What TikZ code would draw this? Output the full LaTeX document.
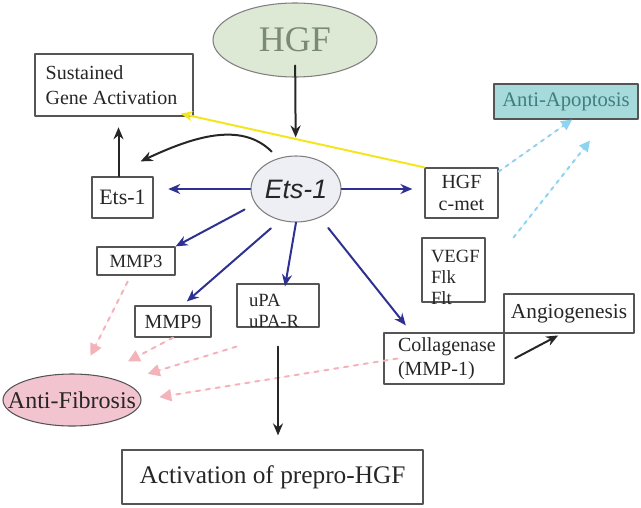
\documentclass[tikz,border=0pt]{standalone}
\usepackage{fontspec}
\setmainfont{Liberation Serif}
\newfontfamily\etsfont{Liberation Sans}
\usetikzlibrary{shapes.geometric,arrows.meta}
\definecolor{boxgray}{HTML}{555555}
\definecolor{hgffill}{HTML}{DDE9D5}
\definecolor{hgftext}{HTML}{7A8A74}
\definecolor{etsfill}{HTML}{EDEFF4}
\definecolor{etsblue}{HTML}{2E3192}
\definecolor{apopfill}{HTML}{A6DADB}
\definecolor{apoptext}{HTML}{3F7E80}
\definecolor{fibfill}{HTML}{F2C4D0}
\definecolor{hlyellow}{HTML}{F3E620}
\definecolor{dotblue}{HTML}{8ED3EF}
\definecolor{dashpink}{HTML}{F4B2BA}
\begin{document}
\begin{tikzpicture}[x=0.75pt,y=-0.75pt,line join=round,line cap=round,
	box/.style={draw=boxgray,line width=0.9pt,inner sep=0pt,text=black!85},
	oval/.style={ellipse,draw=gray,line width=0.8pt,inner sep=0pt},
	blackarr/.style={-{Stealth[length=9pt,width=7.5pt]},draw=black!85,line width=1.5pt},
	bluearr/.style={-{Stealth[length=9pt,width=7.5pt]},draw=etsblue,line width=1.5pt},
	yellowarr/.style={-{Stealth[length=9pt,width=7.5pt]},draw=hlyellow,line width=1.5pt},
	dotarr/.style={-{Triangle[length=8pt,width=8pt]},draw=dotblue,fill=dotblue,line width=1.5pt,dash pattern=on 2.5pt off 4pt},
	pinkarr/.style={-{Triangle[length=9pt,width=9pt]},draw=dashpink,fill=dashpink,line width=1.5pt,dash pattern=on 3pt off 4.5pt}]
	\useasboundingbox (0,0) rectangle (641,507);
	% top
	\node[oval,fill=hgffill,minimum width=123pt,minimum height=55.5pt,text=hgftext,font=\fontsize{27}{30}\selectfont] (hgf) at (295,40) {HGF};
	\node[box,minimum height=46.5pt,inner xsep=8pt,text width=102.5pt,align=flush left,font=\fontsize{15}{18.75}\selectfont] (sga) at (114,85) {Sustained\\Gene Activation};
	\node[box,fill=apopfill,minimum width=108pt,minimum height=26.25pt,text=apoptext,font=\fontsize{15.5}{18}\selectfont] (apop) at (566,101.5) {Anti-Apoptosis};
	% middle row
	\node[oval,fill=etsfill,minimum width=67.5pt,minimum height=49.5pt,font=\fontsize{20}{24}\etsfont\itshape\selectfont,text=black!85] (ets) at (296,189) {\makebox[0pt]{Ets-1}};
	\node[box,minimum width=45.75pt,minimum height=30.75pt,font=\fontsize{16.5}{19}\selectfont] (etsbox) at (122.5,197.5) {Ets-1};
	\node[box,minimum width=54.75pt,minimum height=37.5pt,align=center,font=\fontsize{15}{17}\selectfont] (hgfcmet) at (461.5,193) {HGF\\c-met};
	\node[box,minimum height=48pt,inner xsep=6.75pt,text width=33.75pt,text height=18pt,text depth=30pt,align=flush left,font=\fontsize{14}{15.75}\selectfont] (vegf) at (453.5,270) {VEGF\\Flk\\Flt};
	% targets of ets-1
	\node[box,minimum width=58.5pt,minimum height=21pt,font=\fontsize{14}{16}\selectfont] (mmp3) at (136,261) {MMP3};
	\node[box,minimum width=57pt,minimum height=23.25pt,font=\fontsize{15}{17}\selectfont] (mmp9) at (173,321.5) {MMP9};
	\node[box,minimum height=32.25pt,inner xsep=9pt,text width=43.5pt,text height=17pt,text depth=15.25pt,align=flush left,font=\fontsize{14}{15.75}\selectfont] (upa) at (278,305.5) {uPA\\uPA-R};
	\node[box,minimum height=38.25pt,inner xsep=10.5pt,text width=69pt,align=flush left,font=\fontsize{15}{18}\selectfont] (coll) at (444,358.5) {Collagenase\\(MMP-1)};
	\node[box,minimum width=97.5pt,minimum height=29.25pt,font=\fontsize{16}{19}\selectfont] (angio) at (569,313.5) {Angiogenesis};
	% bottom
	\node[oval,draw=boxgray,fill=fibfill,minimum width=103.5pt,minimum height=39pt,text=black!85,font=\fontsize{18}{21}\selectfont] (antifib) at (72,400) {\makebox[0pt]{Anti-Fibrosis}};
	\node[box,minimum width=225.75pt,minimum height=40.5pt,font=\fontsize{19}{22}\selectfont] (act) at (272.5,477) {Activation of prepro-HGF};
	% arrows
	\draw[yellowarr] (hgfcmet.north west) -- ([xshift=-9.75pt,yshift=2.25pt]sga.south east);
	\draw[blackarr,shorten <=-9pt,shorten >=13.5pt] (hgf) -- (ets);
	\draw[blackarr,shorten <=7pt] (ets.120) to[out=135,in=25] ([xshift=-9.75pt,yshift=11.25pt]etsbox.north east);
	\draw[blackarr,shorten >=8pt] ([xshift=-3pt]etsbox.north) -- ([xshift=-3pt]etsbox.north |- sga.south);
	\draw[bluearr,shorten >=11pt] (ets.west) -- (ets.west -| etsbox.east);
	\draw[bluearr,shorten >=9pt] (ets.east) -- (ets.east -| hgfcmet.west);
	\draw[bluearr,shorten <=9pt] (ets.200) -- (mmp3.north east);
	\draw[bluearr,shorten <=9pt,shorten >=4.5pt] (ets.243) -- (mmp9.60);
	\draw[bluearr] (ets.south) -- ([xshift=5.25pt,yshift=-2.25pt]upa.north);
	\draw[bluearr,shorten <=10pt,shorten >=6.75pt] (ets.310) -- ([xshift=21pt]coll.north west);
	\draw[dotarr] (hgfcmet.30) -- ([xshift=4.5pt]apop.south);
	\draw[dotarr] ([xshift=21pt]vegf.north east) -- ([xshift=18pt,yshift=-15.75pt]apop.south);
	\draw[pinkarr,shorten <=5pt,shorten >=15pt] (mmp3.250) -- (antifib.70);
	\draw[pinkarr,shorten >=23pt] (mmp9.south) -- (antifib.40);
	\draw[pinkarr,shorten >=20pt] ([yshift=-14.25pt]upa.south west) -- (antifib.20);
	\draw[pinkarr,shorten >=13.5pt] ([xshift=10.5pt]coll.west) -- (antifib.east);
	\draw[blackarr,shorten <=14.25pt,shorten >=10.5pt] (upa.south) -- (upa.south |- act.north);
	\draw[blackarr,shorten <=9pt,shorten >=3pt] (coll.-5) -- (angio.250);
\end{tikzpicture}
\end{document}
